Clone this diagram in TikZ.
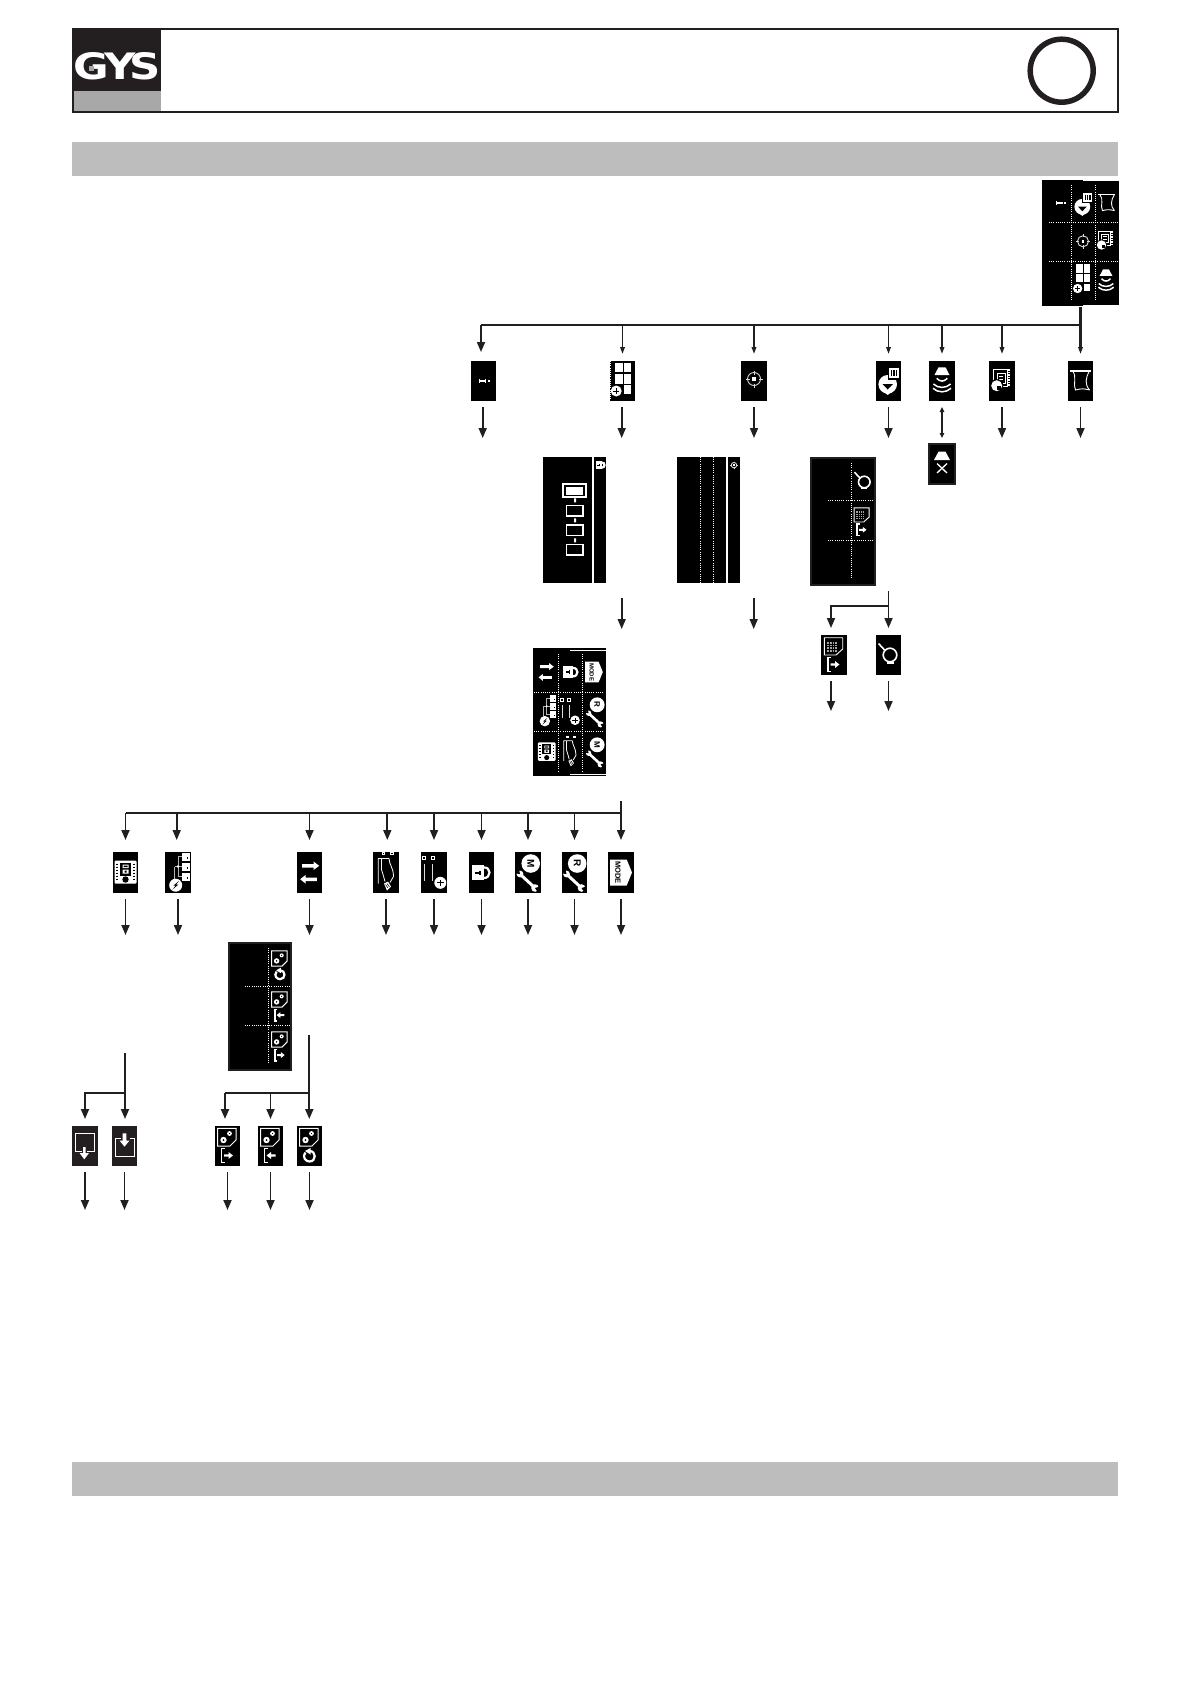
\documentclass[tikz,border=0pt]{standalone}
\usepackage{fontspec}
\setmainfont{Liberation Sans}
\newfontfamily\logofont{DejaVu Sans}
\usetikzlibrary{arrows.meta}
\definecolor{ink}{HTML}{231F20}
\definecolor{barg}{HTML}{BDBDBD}
\definecolor{logog}{HTML}{A8A8A8}
\newcommand{\ibx}[6][fill=black]{\node[ibox,#1,minimum width={(#4-#3)*1pt},minimum height={(#6-#5)*1pt}] (#2) at ({(#3+#4)/2},{(#5+#6)/2}) {};}
% arrow below a box, ending at a named free coordinate
\newcommand{\dnar}[3][0]{\coordinate (#2end) at ([xshift=#1]#2.south |- 0,#3); \draw[conn,big,shorten <=6pt] ([xshift=#1]#2.south) -- (#2end);}
\newcommand{\exitR}{\draw[white,line width=1.2] (-3,2.5)--(-6,2.5)--(-6,16.5)--(-3,16.5);
 \fill[white] (-3.5,8.3)--(1,8.3)--(1,6)--(5.5,9.5)--(1,13)--(1,10.7)--(-3.5,10.7)--cycle;}
\newcommand{\exitL}{\draw[white,line width=1.2] (-3,2.5)--(-6,2.5)--(-6,16.5)--(-3,16.5);
 \fill[white] (5,8.3)--(.5,8.3)--(.5,6)--(-4,9.5)--(.5,13)--(.5,10.7)--(5,10.7)--cycle;}
\newcommand{\calcsheet}{\draw[white,line width=.9] (-9.7,-17.3)--(8.7,-17.3)--(8.7,-6)--(2,0)--(-9.7,0)--cycle;
 \fill[gray!70] (-7,-13.5) rectangle (4,-3.5);
 \foreach \gx in {-4.5,-2,.5,3}{\draw[black,line width=.4] (\gx,-13.5)--(\gx,-3.5);}
 \foreach \gy in {-11,-8.5,-6}{\draw[black,line width=.4] (-7,\gy)--(4,\gy);}}
\newcommand{\gearsheet}{\draw[white,line width=1] (-10,-17.7)--(8.5,-17.7)--(8.5,-6)--(2.5,0)--(-10,0)--cycle;
 \fill[white] (-4,-6) circle[radius=3.2]; \fill[black] (-4,-6) circle[radius=1];
 \fill[white] (2,-12.5) circle[radius=2.4]; \fill[black] (2,-12.5) circle[radius=.7];}
\tikzset{
 x=1pt,y=-1pt,
 ibox/.style={draw=none,inner sep=0pt,outer sep=0pt,rectangle},
 pnlb/.style={fill=black,draw=ink,line width=1.6pt},
 dots/.style={draw=white,line width=.9pt,dash pattern=on 1pt off 1.2pt},
 conn/.style={draw=ink,line width=1.7pt},
 big/.style={-{Triangle[length=10pt,width=8pt]}},
 sml/.style={-{Triangle[length=7pt,width=4.5pt]}},
 % ---- icons, local px coordinates around the cell centre
 icI/.pic={\fill[white] (-4.5,-.8) rectangle (2.5,.8); \fill[white] (-4.5,-2) rectangle (-3.2,2); \fill[white] (1.8,-1.6) rectangle (2.8,1.6); \fill[white] (4.8,-.9) rectangle (6.5,.9);},
 icGrid/.pic={\foreach \ca/\cb/\ra/\rb in {-8/0/-18.3/-8.7,1.7/8.3/-18.3/-8.7,-8/0/-6.7/2.7,1.7/8.3/-6.7/2.7,1.7/8.3/4.3/13}{\fill[white] (\ca,\ra) rectangle (\cb,\rb);}
   \fill[white] (-6.3,10) circle[radius=5.5]; \fill[black] (-9.3,9.5) rectangle (-3.3,10.5); \fill[black] (-6.8,7) rectangle (-5.8,13);},
 icTarget/.pic={\draw[white!85!black,line width=.9] (0,-2) circle[radius=6.5]; \fill[white] (-1.7,-3.7) rectangle (1.7,-.3);
   \draw[white!85!black,line width=.9] (0,-10.5)--(0,-6.5) (0,2.5)--(0,6.5) (-8.5,-2)--(-4.5,-2) (4.5,-2)--(8.5,-2);},
 icHeart/.pic={\fill[white] (-.8,3.3) circle[radius=9.3]; \fill[white] (-.8,14)--(-4,11.5)--(2.4,11.5)--cycle;
   \fill[black] (-6,3)--(4.5,3)--(-.8,8.5)--cycle;
   \fill[black] (-1,-14) rectangle (11,-1); \fill[white] (0,-12.6) rectangle (10,-2.6);
   \foreach \bx in {2,4.8,7.6}{\fill[black] (\bx,-11)rectangle(\bx+1.3,-5);}},
 icSpk/.pic={\fill[white] (-3.5,-13.7)--(3.5,-13.7)--(7.5,-6)--(-7.5,-6)--cycle;
   \draw[white,line width=1.5] (-5.3,-2.7) .. controls (-2,1) and (2,1) .. (5.3,-2.7);
   \draw[white,line width=1.5] (-8.6,3) .. controls (-4,7.5) and (4,7.5) .. (8.6,3);
   \draw[white,line width=1.5] (-9,7.3) .. controls (-4,12) and (4,12) .. (9,7.3);},
 icSpkX/.pic={\fill[white] (-3.5,-12.3)--(3.5,-12.3)--(8,-4)--(-8,-4)--cycle;
   \draw[white,line width=1.3] (-5,-.5)--(5,9) (5,-.5)--(-5,9);},
 icNote/.pic={\draw[white,line width=1.1] (-8.7,-11.7) rectangle (5.5,5.7);
   \draw[white,line width=2.4,dash pattern=on 1.5pt off 1pt] (7,-11.7)--(7,5);
   \draw[white,line width=.7] (-5,-8) rectangle (3,2) (-3,-5)--(1,-5) (-3,-1.5)--(1,-1.5);
   \fill[black] (-5.3,4.7) circle[radius=6.6]; \fill[white] (-5.3,4.7) circle[radius=5.5]; \fill[black] (-5.3,4.7) rectangle (-1.2,8.5);},
 icCorset/.pic={\fill[white] (-10.5,-10.8) rectangle (10,-9.2);
   \draw[white,line width=.9] (-8,-10) .. controls (-3,-4) and (-8,3) .. (-5,9) .. controls (0,7.5) and (4,7.5) .. (9,9);
   \draw[white,line width=.9] (9,-10) .. controls (5,-3) and (4,3) .. (9,9);},
 icRing/.pic={\draw[white,line width=1.6] (1.5,0) circle[radius=6.8]; \draw[white,line width=1.6] (-10,-11.5)--(-3.5,-4.5); \fill[white] (-2,6.5) rectangle (5,8.5);},
 icSheetExit/.pic={\calcsheet \exitR},
 icSwap/.pic={\fill[white] (-7.3,-8.5)--(4,-8.5)--(4,-11)--(9.7,-6.7)--(4,-2.5)--(4,-5)--(-7.3,-5)--cycle;
   \fill[white] (7.3,5)--(-4,5)--(-4,2.5)--(-9.3,6.7)--(-4,11)--(-4,8.5)--(7.3,8.5)--cycle;},
 icPanel/.pic={\fill[white,rounded corners=1pt] (-11,-12) rectangle (11,11);
   \fill[black] (-5.5,-9.5) rectangle (5.5,3); \fill[white] (-3,-8)rectangle(3,-4.5) (-3,-3)rectangle(3,1);
   \fill[black] (-2,-7)rectangle(2,-5.5) (-1,-2)rectangle(1,0);
   \fill[black] (0,7) circle[radius=3.2];
   \draw[black,line width=1.3,dash pattern=on 1.5pt off 1.5pt] (-8.5,-9)--(-8.5,9) (8.5,-9)--(8.5,9);},
 icTree/.pic={\foreach \ya/\yb in {-19.7/-11.7,-10/-1.7,.3/8.3}{\fill[white] (3.7,\ya) rectangle (12,\yb); \fill[black] (8.5,\ya+4.5) rectangle (10,\ya+6);}
   \draw[white!70!black,line width=.9] (3.7,-15.7)--(0,-15.7)--(0,4)--(3.7,4) (0,-6)--(3.7,-6) (-3.5,-6)--(0,-6) (-3.5,-6)--(-3.5,7);
   \fill[white] (0,-6) circle[radius=1.3];
   \fill[white] (-2.3,12.7) circle[radius=6.5];
   \fill[black] (1,8.5)--(-4.5,13)--(-2.3,13)--(-5.5,17)--(.2,12.2)--(-2,12.2)--cycle;},
 icHem/.pic={\draw[white,line width=.7] (-4,-20) rectangle (-1.5,-18) (4.5,-20) rectangle (7,-18);
   \draw[white,line width=.8] (-7.7,11)--(-7.7,-14)--(3,-14) (-4.5,-14)--(-4.5,-3) .. controls (-3,2) and (-2,5) .. (-1,9);
   \draw[white,line width=.8] (3,-14) .. controls (3,-8) and (7.5,-5) .. (7.5,4)--(4,10);
   \fill[white] (-2,11)--(2,9)--(5,14)--(1,18)--cycle;
   \draw[black,line width=.5] (-.5,12)--(2,15.5) (1,11)--(3.5,14.5);},
 icIIPlus/.pic={\draw[white,line width=.8] (-11.5,-16.5) rectangle (-8.5,-13.5) (-3,-16.5) rectangle (0,-13.5);
   \draw[white!85!black,line width=.8] (-10,-9)--(-10,8) (-1.3,-9)--(-1.3,8);
   \fill[white] (6.3,10.3) circle[radius=6]; \fill[black] (3,9.8) rectangle (9.6,10.8); \fill[black] (5.8,7) rectangle (6.8,13.6);},
 icLock/.pic={\draw[white,line width=2.2] (2,-5) .. controls (10,-6) and (10,6) .. (2,5.5);
   \fill[white] (-9.5,-7.3) rectangle (2.5,7.7); \fill[black] (-6.5,-.7) rectangle (-1,1); \fill[black] (-2.5,-2) rectangle (-1,2.5);},
 icMode/.pic={\fill[white] (-11,-13)--(5.7,-13)--(11,0)--(5.7,13)--(-11,13)--cycle;
   \node[inner sep=0pt,rotate=-90,black] (tmode) at (-3,0) {\fontsize{#1}{#1}\selectfont\bfseries MODE};},
 icWrM/.pic={\fill[white] (2.7,-9) circle[radius=9.3];
   \node[inner sep=0pt,rotate=-90,black] (twrench) at (2.7,-9) {\fontsize{10}{10}\selectfont\bfseries #1};
   \draw[white,line width=3] (-7,2.5)--(6,14.5);
   \fill[white] (-8,1.5) circle[radius=3.4]; \fill[black] (-12,1)--(-8,1.5)--(-9,-3)--cycle;
   \fill[white] (7,15.5) circle[radius=3.8]; \fill[black] (7,15.5)--(12,14)--(10,20)--cycle;},
 icWrP/.pic={\fill[white] (2.7,-9) circle[radius=9.3];
   \node[inner sep=0pt,rotate=-90,black] (twrench) at (2.7,-9) {\fontsize{8}{8}\selectfont\bfseries #1};
   \draw[white,line width=2.6] (-7,2.5)--(6,14.5);
   \fill[white] (-8,1.5) circle[radius=3.4]; \fill[black] (-12,1)--(-8,1.5)--(-9,-3)--cycle;
   \fill[white] (7,15.5) circle[radius=3.8]; \fill[black] (7,15.5)--(12,14)--(10,20)--cycle;},
 icGearExit/.pic={\gearsheet \exitR},
 icGearEnter/.pic={\gearsheet \exitL},
 icGearRot/.pic={\gearsheet
   \draw[white,line width=2.2] (-4,6.5) .. controls (-8,12) and (-3,15.5) .. (0,15.5) .. controls (7,15.5) and (7,5) .. (0,5);
   \fill[white] (1,2)--(1,8.5)--(-4.5,5)--cycle;},
 icSaveA/.pic={\draw[white,line width=1.4] (-3,5.7)--(-9.3,5.7)--(-9.3,-12.7)--(9.3,-12.7)--(9.3,5.7)--(2,5.7);
   \fill[white] (-2,1)--(.6,1)--(.6,7)--(4,7)--(-.7,13.3)--(-5.5,7)--(-2,7)--cycle;},
 icSaveB/.pic={\draw[white,line width=1.4] (-4,-7.7)--(-9,-7.7)--(-9,10.7)--(10,10.7)--(10,-7.7)--(5,-7.7);
   \fill[white] (-1.8,-12.7)--(1.8,-12.7)--(1.8,-5.5)--(5,-5.5)--(0,.7)--(-5,-5.5)--(-1.8,-5.5)--cycle;},
}
\begin{document}
\begin{tikzpicture}
\useasboundingbox (0,0) rectangle (1191,1684);
% ---------- header
\fill[ink] (72,28) rectangle (161,91);
\fill[logog] (74,91) rectangle (161,111);
\draw[ink,line width=2pt] (73,29) rectangle (1118,112);
\node[inner sep=0pt,white] (gys) at (117.5,66.5) {\resizebox{87pt}{27pt}{\logofont\bfseries G\kern-.12em Y\kern-.14em S}};
\fill[logog] (89,66) rectangle (94,71);
\node[draw=ink,line width=5.5pt,circle,minimum size=63pt,inner sep=0pt] (ring) at (1061.7,70.7) {};
% ---------- grey bars
\fill[barg] (72,142) rectangle (1118,176);
\fill[barg] (72,1462) rectangle (1118,1496);

% ---------- top panel
\ibx{panA}{1042}{1119}{180}{306}
\draw[white,line width=1pt] (1083,180.5)--(1118.5,180.5) (1083,305)--(1118.5,305);
\draw[dots] (1071.7,185)--(1071.7,300) (1095,185)--(1095,300);
\draw[dots] (1049,222)--(1118,222) (1049,261)--(1118,261);
\pic[scale=.85] at (1060,203) {icI};
\pic[scale=.85] at (1083,204) {icHeart};
\pic[scale=.85] at (1106.7,203) {icCorset};
\pic[scale=.85] at (1083,243) {icTarget};
\pic[scale=.85] at (1106,241) {icNote};
\pic[scale=.85] at (1083,280) {icGrid};
\pic[scale=.85] at (1106,281) {icSpk};

% ---------- row 1 boxes
\ibx{bI}{471}{496}{361}{401}      \pic at (bI.center) {icI};
\ibx{bGrid}{610}{635}{361}{401}   \pic at (bGrid.center) {icGrid};
\draw[dots,line width=.7pt] (610,361)--(610,401);
\ibx{bTgt}{741}{767}{361}{401}    \pic at (bTgt.center) {icTarget};
\ibx{bHeart}{876}{901}{361}{401}  \pic at (bHeart.center) {icHeart};
\ibx{bSpk}{929}{955}{361}{401}    \pic at (bSpk.center) {icSpk};
\ibx{bNote}{989}{1015}{361}{401}  \pic at (bNote.center) {icNote};
\ibx{bCors}{1068}{1093}{361}{401} \pic at (bCors.center) {icCorset};
\ibx[fill=black,draw=ink,line width=1.6pt]{bSpkX}{929}{955}{444}{484} \pic at (bSpkX.center) {icSpkX};

\coordinate (busA) at (1080.5,325);
\draw[conn] (busA) -- ([xshift=-2.5]bI.north |- busA);
\draw[conn,big,shorten >=9pt] ([xshift=-2.5]bI.north |- busA) -- ([xshift=-2.5]bI.north);
\draw[conn,sml,shorten >=7pt] (bGrid.north |- busA) -- (bGrid.north);
\draw[conn,sml,shorten >=7pt] (bTgt.north |- busA) -- (bTgt.north);
\draw[conn,sml,shorten >=7pt] (bHeart.north |- busA) -- (bHeart.north);
\draw[conn,sml,shorten >=7pt] (bSpk.north |- busA) -- (bSpk.north);
\draw[conn,sml,shorten >=7pt] (bNote.north |- busA) -- (bNote.north);
\draw[conn,line width=2.5pt,sml,shorten <=1pt,shorten >=7pt] (panA.south) -- (bCors.north);
\draw[conn,{Triangle[length=5pt,width=4.5pt]}-{Triangle[length=5pt,width=4.5pt]},shorten <=6pt,shorten >=6pt] (bSpk.south) -- (bSpkX.north);
\dnar[-.8]{bI}{438}
\dnar[-.8]{bGrid}{438}
\dnar{bTgt}{438}
\dnar{bHeart}{438}
\dnar{bNote}{438}
\dnar{bCors}{438}

% ---------- row 1 panels
\ibx{panLmain}{543}{592}{457}{583}
\ibx{panLstrip}{594}{606}{457}{583}
\pic[scale=.5] at (600.5,465) {icLock};
\draw[white,line width=1.5pt] (563,484) rectangle (586,497);
\fill[white] (566,486.5) rectangle (583,494.5);
\foreach \yy in {505.5,525,544.5}{\draw[white,line width=1.3pt] (566.5,\yy) rectangle (583,\yy+10.5);}
\fill[white] (574,498.3) rectangle (576,502.3) (574,518.3) rectangle (576,522.3) (574,538.3) rectangle (576,542.3);

\ibx{panTmain}{677}{726}{457}{583}
\ibx{panTstrip}{728}{740}{457}{583}
\draw[dots] (700.3,457)--(700.3,583) (713.3,457)--(713.3,583);
\pic[scale=.42] at (734,466) {icTarget};

\ibx[pnlb]{panH}{811}{875}{458}{585}
\draw[dots] (851,463)--(851,579);
\draw[dots] (828,500)--(873,500) (828,540)--(873,540);
\pic[scale=.85] at (863,482) {icRing};
\pic[scale=.82] at (862,522) {icSheetExit};

% ---------- arrows under panels, and branch
\coordinate (lockS) at (621.7,598); \coordinate (lockE) at (621.7,629);
\draw[conn,big] (lockS) -- (lockE);
\coordinate (tgtS) at (753.7,598); \coordinate (tgtE) at (753.7,629);
\draw[conn,big] (tgtS) -- (tgtE);

\ibx{bSheet}{821}{847}{635}{675}  \pic at (bSheet.center) {icSheetExit};
\ibx{bRing}{876}{901}{635}{675}   \pic at (bRing.center) {icRing};
\coordinate (hS) at (888.5,591);  \coordinate (hB) at (888.5,605.7);
\draw[conn,big,shorten >=7pt] (hS) -- (bRing.north);
\draw[conn,big,shorten >=7pt] (hB) -- ([xshift=-3]bSheet.north |- hB) -- ([xshift=-3]bSheet.north);
\dnar[-3]{bSheet}{711}
\dnar{bRing}{711}

% ---------- settings panel
\ibx{panS}{533}{606}{648}{776}
\draw[white,line width=1pt] (570,650)--(605.5,650) (570,774)--(605.5,774);
\draw[dots] (558,654)--(558,772) (582,654)--(582,772);
\draw[dots] (534,692)--(604,692) (534,731)--(604,731);
\pic[scale=.8] at (546,672) {icSwap};
\pic[scale=.8] at (571,672) {icLock};
\pic[scale=.8] at (594,672) {icMode=6};
\pic[scale=.8] at (546.7,711) {icTree};
\pic[scale=.8] at (570,712) {icIIPlus};
\pic[scale=.8] at (595,712) {icWrP=R};
\pic[scale=.8] at (546.7,752) {icPanel};
\pic[scale=.8] at (570,752) {icHem};
\pic[scale=.8] at (595,752) {icWrP=M};

% ---------- row 3
\ibx{cPanel}{113}{138}{852}{893}  \pic at (cPanel.center) {icPanel};
\ibx{cTree}{165}{191}{852}{893}   \pic at (cTree.center) {icTree};
\ibx{cSwap}{297}{322}{852}{893}   \pic at (cSwap.center) {icSwap};
\ibx{cHem}{373}{399}{852}{893}    \pic at (cHem.center) {icHem};
\ibx{cII}{421}{447}{852}{893}     \pic at (cII.center) {icIIPlus};
\ibx{cLock}{469}{494}{852}{893}   \pic at (cLock.center) {icLock};
\ibx{cWM}{515}{541}{852}{893}     \pic at (cWM.center) {icWrM=M};
\ibx{cWR}{562}{587}{852}{893}     \pic at (cWR.center) {icWrM=R};
\ibx{cMode}{608}{634}{852}{893}   \pic at (cMode.center) {icMode=7.5};

\coordinate (busCs) at (621,801); \coordinate (busC) at (621,813);
\draw[conn] (busC) -- (cPanel.north |- busC);
\draw[conn,big,shorten >=12pt] (busCs) -- (cMode.north);
\foreach \bb/\sh in {cPanel/0,cTree/-1.3,cSwap/0,cHem/1.3,cII/0,cLock/0,cWM/0,cWR/0}{
  \draw[conn,big,shorten >=12pt] ([xshift=\sh]\bb.north |- busC) -- ([xshift=\sh]\bb.north);}
\dnar{cPanel}{935}
\dnar{cTree}{935}
\dnar{cSwap}{935}
\dnar{cHem}{935}
\dnar{cII}{935}
\dnar{cLock}{935}
\dnar{cWM}{935}
\dnar{cWR}{935}
\dnar{cMode}{935}

% ---------- save panel
\ibx[pnlb]{panV}{229}{291}{943}{1070}
\draw[dots] (268.3,948)--(268.3,1064);
\draw[dots] (245,986.7)--(290,986.7) (245,1025)--(290,1025);
\pic[scale=.85] at (280,966) {icGearRot};
\pic[scale=.85] at (280,1007) {icGearEnter};
\pic[scale=.85] at (280,1047) {icGearExit};

% ---------- row 4
\ibx[fill=ink]{dA}{72}{98}{1126}{1166}    \pic at (dA.center) {icSaveA};
\ibx[fill=ink]{dB}{112}{137}{1126}{1166}  \pic at (dB.center) {icSaveB};
\ibx{dE}{215}{240}{1126}{1166}    \pic at (dE.center) {icGearExit};
\ibx{dN}{258}{283}{1126}{1166}    \pic at (dN.center) {icGearEnter};
\ibx{dR}{297}{322}{1126}{1166}    \pic at (dR.center) {icGearRot};

\coordinate (lS) at (125,1053); \coordinate (lB) at (125,1092.7);
\draw[conn,big,shorten >=7pt] (lS) -- (dB.north -| lS);
\draw[conn,big,shorten >=7pt] (lB) -- (dA.north |- lB) -- (dA.north);
\coordinate (rS) at (309.3,1035); \coordinate (rB) at (309.3,1092.7);
\draw[conn,line width=2pt,big,shorten >=7pt] (rS) -- (dR.north -| rS);
\draw[conn] (rB) -- ([xshift=-2.5]dE.north |- rB);
\draw[conn,line width=2pt,big,shorten >=7pt] ([xshift=-2.5]dE.north |- rB) -- ([xshift=-2.5]dE.north);
\draw[conn,big,shorten >=7pt] (dN.north |- rB) -- (dN.north);
\dnar{dA}{1210}
\dnar{dB}{1210}
\dnar{dE}{1210}
\dnar{dN}{1210}
\dnar{dR}{1210}
\end{tikzpicture}
\end{document}
